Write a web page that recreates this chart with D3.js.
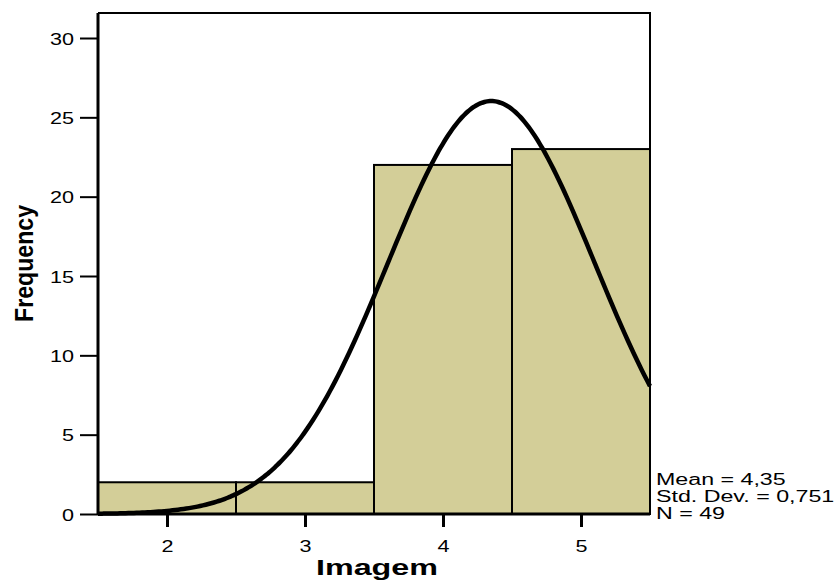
<!DOCTYPE html>
<html>
<head>
<meta charset="utf-8">
<script src="https://cdn.jsdelivr.net/npm/d3@7/dist/d3.min.js"></script>
<style>
  html, body { margin: 0; padding: 0; background: #fff; }
  text { font-family: "Liberation Sans", Arial, Helvetica, sans-serif; fill: #000; }
</style>
</head>
<body>
<svg id="chart" width="839" height="581"></svg>
<script>
// Histogram of "Imagem" scores with fitted normal curve
const binStarts = [1.5, 2.5, 3.5, 4.5];
const binEnds   = [2.5, 3.5, 4.5, 5.5];
const counts    = [2, 2, 22, 23];
const xTicks = [2, 3, 4, 5];
const yTicks = [0, 5, 10, 15, 20, 25, 30];
const statMean = 4.35;
const statSd = 0.751;
const statN = 49;
const statLines = ["Mean = 4,35", "Std. Dev. = 0,751", "N = 49"];

const svg = d3.select("#chart");
const plotLeft = 98, plotRight = 650, plotTop = 13, plotBottom = 514;

const x = d3.scaleLinear().domain([1.5, 5.5]).range([plotLeft, plotRight]);
const y = d3.scaleLinear().domain([0, 30]).range([plotBottom, 38]);

// widen glyphs horizontally by a factor, keeping the anchor
function stretch(sel, factor) {
  sel.each(function () {
    const w = this.getComputedTextLength();
    d3.select(this).attr("textLength", w * factor).attr("lengthAdjust", "spacingAndGlyphs");
  });
}

// bars
svg.append("g").selectAll("rect")
  .data(counts)
  .join("rect")
  .attr("x", (d, i) => x(binStarts[i]))
  .attr("width", (d, i) => x(binEnds[i]) - x(binStarts[i]))
  .attr("y", d => y(d))
  .attr("height", d => y(0) - y(d))
  .attr("fill", "#d3ce98")
  .attr("stroke", "#000")
  .attr("stroke-width", 2);

// normal curve scaled to counts (N * bin width * density)
const binWidth = 1;
const pdf = v => Math.exp(-0.5 * ((v - statMean) / statSd) ** 2) / (statSd * Math.sqrt(2 * Math.PI));
const curveX = d3.range(1.5, 5.5001, 0.02);
const line = d3.line()
  .x(v => x(v))
  .y(v => y(statN * binWidth * pdf(v)))
  .curve(d3.curveBasis);
svg.append("path")
  .datum(curveX)
  .attr("d", line)
  .attr("fill", "none")
  .attr("stroke", "#000")
  .attr("stroke-width", 4.5);

// frame (top and right)
svg.append("path")
  .attr("d", `M${plotLeft},${plotTop}H${plotRight}V${plotBottom}`)
  .attr("fill", "none")
  .attr("stroke", "#000")
  .attr("stroke-width", 2);

// axes
const yAxis = d3.axisLeft(y).tickValues(yTicks).tickFormat(d3.format("d"))
  .tickSize(18).tickPadding(6).tickSizeOuter(0);
const gy = svg.append("g").attr("transform", `translate(${plotLeft},0)`).call(yAxis);
gy.attr("font-family", null).attr("font-size", null);
gy.select(".domain").attr("d", `M0,${plotTop}V${plotBottom}`).attr("stroke-width", 3);
gy.selectAll(".tick line").attr("stroke-width", 2);
gy.selectAll(".tick text").attr("font-size", 17).attr("dy", "0.36em").call(stretch, 1.27);

const xAxis = d3.axisBottom(x).tickValues(xTicks).tickFormat(d3.format("d"))
  .tickSize(13).tickPadding(13).tickSizeOuter(0);
const gx = svg.append("g").attr("transform", `translate(0,${plotBottom})`).call(xAxis);
gx.attr("font-family", null).attr("font-size", null);
gx.select(".domain").attr("d", `M${plotLeft},0H${plotRight}`).attr("stroke-width", 3);
gx.selectAll(".tick line").attr("stroke-width", 3);
gx.selectAll(".tick text").attr("font-size", 17).call(stretch, 1.27);

// titles
svg.append("text")
  .attr("transform", "translate(33,263.5) rotate(-90)")
  .attr("text-anchor", "middle")
  .attr("font-size", 25)
  .attr("font-weight", "bold")
  .attr("textLength", 117)
  .attr("lengthAdjust", "spacingAndGlyphs")
  .text("Frequency");

svg.append("text")
  .attr("x", 377)
  .attr("y", 575)
  .attr("text-anchor", "middle")
  .attr("font-size", 22)
  .attr("font-weight", "bold")
  .attr("textLength", 122)
  .attr("lengthAdjust", "spacingAndGlyphs")
  .text("Imagem");

// summary statistics
svg.append("g").selectAll("text")
  .data(statLines)
  .join("text")
  .attr("x", 656)
  .attr("y", (d, i) => 485 + i * 17)
  .attr("font-size", 16)
  .text(d => d)
  .call(stretch, 1.45);
</script>
</body>
</html>
